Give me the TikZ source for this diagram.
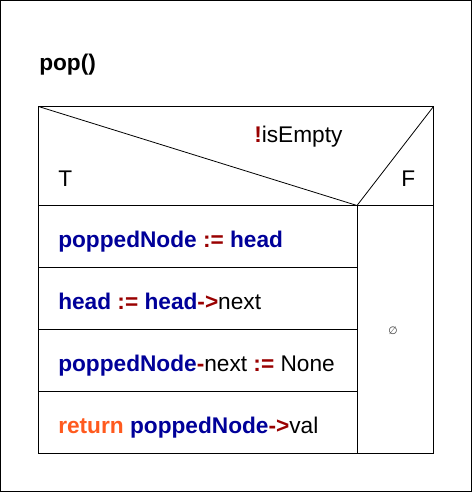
\documentclass[tikz,border=0pt]{standalone}
\usepackage{fontspec}
\setmainfont{Liberation Sans}
\newfontfamily\symfont{DejaVu Sans}

\definecolor{varblue}{RGB}{0,0,153}
\definecolor{opred}{RGB}{153,0,0}
\definecolor{kworange}{RGB}{255,90,30}

\newcommand{\vname}[1]{\textcolor{varblue}{\bfseries #1}}
\newcommand{\opsym}[1]{\textcolor{opred}{\bfseries #1}}

\tikzset{%
  % Specifications for style of nodes:
         stmt/.style = {anchor=base west, inner sep=0pt, font=\fontsize{17}{20}\selectfont},
        frame/.style = {draw=black, line width=0.75pt},
         diag/.style = {draw=black, line width=0.6pt},
}

\begin{document}
\begin{tikzpicture}[x=0.75pt, y=-0.75pt]
    \useasboundingbox (0,0) rectangle (472,492);
    \draw[frame] (0.5,0.5) rectangle (471.5,491.5);

    % Corners of the chart
    \coordinate (nw)    at (38.5,106.5);
    \coordinate (ne)    at (433.5,106.5);
    \coordinate (split) at (357,205.5);
    \coordinate (cw)    at (38.5,205.5);
    \coordinate (ce)    at (433.5,205.5);
    \coordinate (sw)    at (38.5,453.5);
    \coordinate (ssplit) at (357,453.5);
    \coordinate (se)    at (433.5,453.5);

    % Draw nodes
    \node (title) [stmt, font=\fontsize{17}{20}\selectfont\bfseries] at (39,70) {pop()};
    \node (cond)  [stmt] at (254,142) {\opsym{!}isEmpty};
    \node (true)  [stmt] at (58,186)  {T};
    \node (false) [stmt] at (401,186) {F};
    \node (s1)    [stmt] at (58,247)  {\vname{poppedNode} \opsym{:=} \vname{head}};
    \node (s2)    [stmt] at (58,309)  {\vname{head} \opsym{:=} \vname{head}\opsym{->}next};
    \node (s3)    [stmt] at (58,371)  {\vname{poppedNode}\opsym{-}next \opsym{:=} None};
    \node (s4)    [stmt] at (58,433)  {\textcolor{kworange}{\bfseries return} \vname{poppedNode}\opsym{->}val};
    \node (empty) [inner sep=0pt, text=black!75, font=\symfont\fontsize{8}{9}\selectfont] at (393,331) {∅};

    % Draw lines
    \draw[frame] (nw) -- (ne) -- (se) -- (sw) -- cycle;
    \draw[frame] (cw) -- (ce);
    \draw[frame] (split) -- (ssplit);
    \draw[diag]  (nw) -- (split) -- (ne);
    \foreach \y in {267.5,329.5,391.5}
        \draw[frame] (38.5,\y) -- (357,\y);

\end{tikzpicture}
\end{document}
